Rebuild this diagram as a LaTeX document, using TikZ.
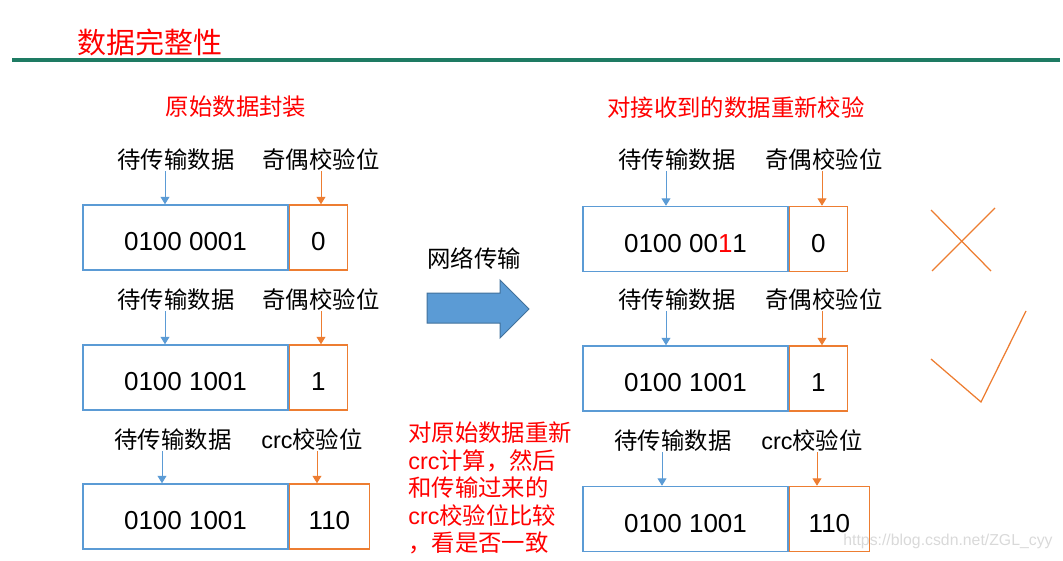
\documentclass[tikz,border=0pt]{standalone}
\usepackage{fontspec}
\setmainfont{Liberation Sans}
\newfontfamily\zh{Noto Sans CJK SC}
\usetikzlibrary{arrows.meta}
\definecolor{boxblue}{HTML}{5B9BD5}
\definecolor{boxorange}{HTML}{ED7D31}
\definecolor{arrowedge}{HTML}{41719C}
\definecolor{rulegreen}{HTML}{1E7B63}

\begin{document}
\begin{tikzpicture}[
		x=0.02cm,y=-0.02cm,
		every node/.style={inner sep=0pt},
		lbl/.style={font=\fontsize{13.3}{16}\zh},
		headtxt/.style={font=\fontsize{13.3}{16}\zh,text=red},
		databox/.style={draw=boxblue,line width=0.03cm,minimum width=4.1cm,minimum height=1.3cm,text height=0.54cm,text depth=0pt,font=\fontsize{14.8}{18}\selectfont},
		checkbox/.style={draw=boxorange,line width=0.03cm,minimum width=1.16cm,minimum height=1.3cm,text height=0.54cm,text depth=0pt,anchor=west,font=\fontsize{14.8}{18}\selectfont},
		bluearrow/.style={draw=boxblue,line width=0.02cm,-{Triangle[length=0.15cm,width=0.18cm]}},
		orangearrow/.style={draw=boxorange,line width=0.02cm,-{Triangle[length=0.15cm,width=0.18cm]}},
		tickline/.style={draw=boxorange,line width=0.025cm}
		]
		\useasboundingbox (0,0) rectangle (1063,561);
		% title and rule
		\node[font=\fontsize{16.5}{20}\zh,text=red] (title) at (150,42) {数据完整性};
		\draw[rulegreen,line width=0.08cm] (12,60) -- (1060,60);
		\node[headtxt] (src) at (236,107) {原始数据封装};
		\node[headtxt] (dst) at (736,108) {对接收到的数据重新校验};
		
		% sender side
		\node[databox] (d1) at (185.5,237.5) {0100 0001};
		\node[checkbox] (p1) at (d1.east) {0};
		\node[lbl] (ld1) at (176,160) {待传输数据};
		\node[lbl] (lp1) at (321,160) {奇偶校验位};
		\coordinate (ad1) at ([xshift=-0.22cm]ld1.south);
		\coordinate (ap1) at (lp1.south);
		\draw[bluearrow] (ad1) -- (ad1 |- d1.north);
		\draw[orangearrow] (ap1) -- (ap1 |- p1.north);
		
		\node[databox] (d2) at (185.5,377.5) {0100 1001};
		\node[checkbox] (p2) at (d2.east) {1};
		\node[lbl] (ld2) at (176,300) {待传输数据};
		\node[lbl] (lp2) at (321,300) {奇偶校验位};
		\coordinate (ad2) at ([xshift=-0.22cm]ld2.south);
		\coordinate (ap2) at (lp2.south);
		\draw[bluearrow] (ad2) -- (ad2 |- d2.north);
		\draw[orangearrow] (ap2) -- (ap2 |- p2.north);
		
		\node[databox] (d3) at (185.5,516.5) {0100 1001};
		\node[checkbox,minimum width=1.6cm] (p3) at (d3.east) {110};
		\node[lbl] (ld3) at (173,440) {待传输数据};
		\node[lbl] (lp3) at (312,440) {{\rmfamily crc}校验位};
		\coordinate (ad3) at ([xshift=-0.22cm]ld3.south);
		\coordinate (ap3) at ([xshift=0.1cm]lp3.south);
		\draw[bluearrow] (ad3) -- (ad3 |- d3.north);
		\draw[orangearrow] (ap3) -- (ap3 |- p3.north);
		
		% transfer
		\node[lbl] (net) at (474,258) {网络传输};
		\draw[fill=boxblue,draw=arrowedge,line width=0.02cm] (427,293) -- (500,293) -- (500,280) -- (529,309) -- (500,338) -- (500,323) -- (427,323) -- cycle;
		\node[headtxt,anchor=west,align=left,font=\fontsize{13.3}{15.6}\zh] (note) at (408,488) {对原始数据重新\\
			{\rmfamily crc}计算，然后\\
			和传输过来的\\
			{\rmfamily crc}校验位比较\\
			，看是否一致};
		
		% receiver side
		\node[databox] (d4) at (685.5,239) {0100 00\textcolor{red}{1}1};
		\node[checkbox] (p4) at (d4.east) {0};
		\node[lbl] (ld4) at (677,160) {待传输数据};
		\node[lbl] (lp4) at (824,160) {奇偶校验位};
		\coordinate (ad4) at ([xshift=-0.22cm]ld4.south);
		\coordinate (ap4) at ([xshift=-0.04cm]lp4.south);
		\draw[bluearrow] (ad4) -- (ad4 |- d4.north);
		\draw[orangearrow] (ap4) -- (ap4 |- p4.north);
		
		\node[databox] (d5) at (685.5,378.5) {0100 1001};
		\node[checkbox] (p5) at (d5.east) {1};
		\node[lbl] (ld5) at (677,300) {待传输数据};
		\node[lbl] (lp5) at (824,300) {奇偶校验位};
		\coordinate (ad5) at ([xshift=-0.22cm]ld5.south);
		\coordinate (ap5) at ([xshift=-0.04cm]lp5.south);
		\draw[bluearrow] (ad5) -- (ad5 |- d5.north);
		\draw[orangearrow] (ap5) -- (ap5 |- p5.north);
		
		\node[databox] (d6) at (685.5,519) {0100 1001};
		\node[checkbox,minimum width=1.6cm] (p6) at (d6.east) {110};
		\node[lbl] (ld6) at (673,441) {待传输数据};
		\node[lbl] (lp6) at (812,441) {{\rmfamily crc}校验位};
		\coordinate (ad6) at ([xshift=-0.22cm]ld6.south);
		\coordinate (ap6) at ([xshift=0.1cm]lp6.south);
		\draw[bluearrow] (ad6) -- (ad6 |- d6.north);
		\draw[orangearrow] (ap6) -- (ap6 |- p6.north);
		
		% wrong / right
		\draw[tickline] (931,210) -- (991,271);
		\draw[tickline] (932,271) -- (995,208);
		\draw[tickline] (931,359) -- (981,402) -- (1026,311);
		
		\node[text=gray!30,font=\fontsize{9}{11}\selectfont] (wm) at (948,541) {https://blog.csdn.net/ZGL\_cyy};
	\end{tikzpicture}
\end{document}
